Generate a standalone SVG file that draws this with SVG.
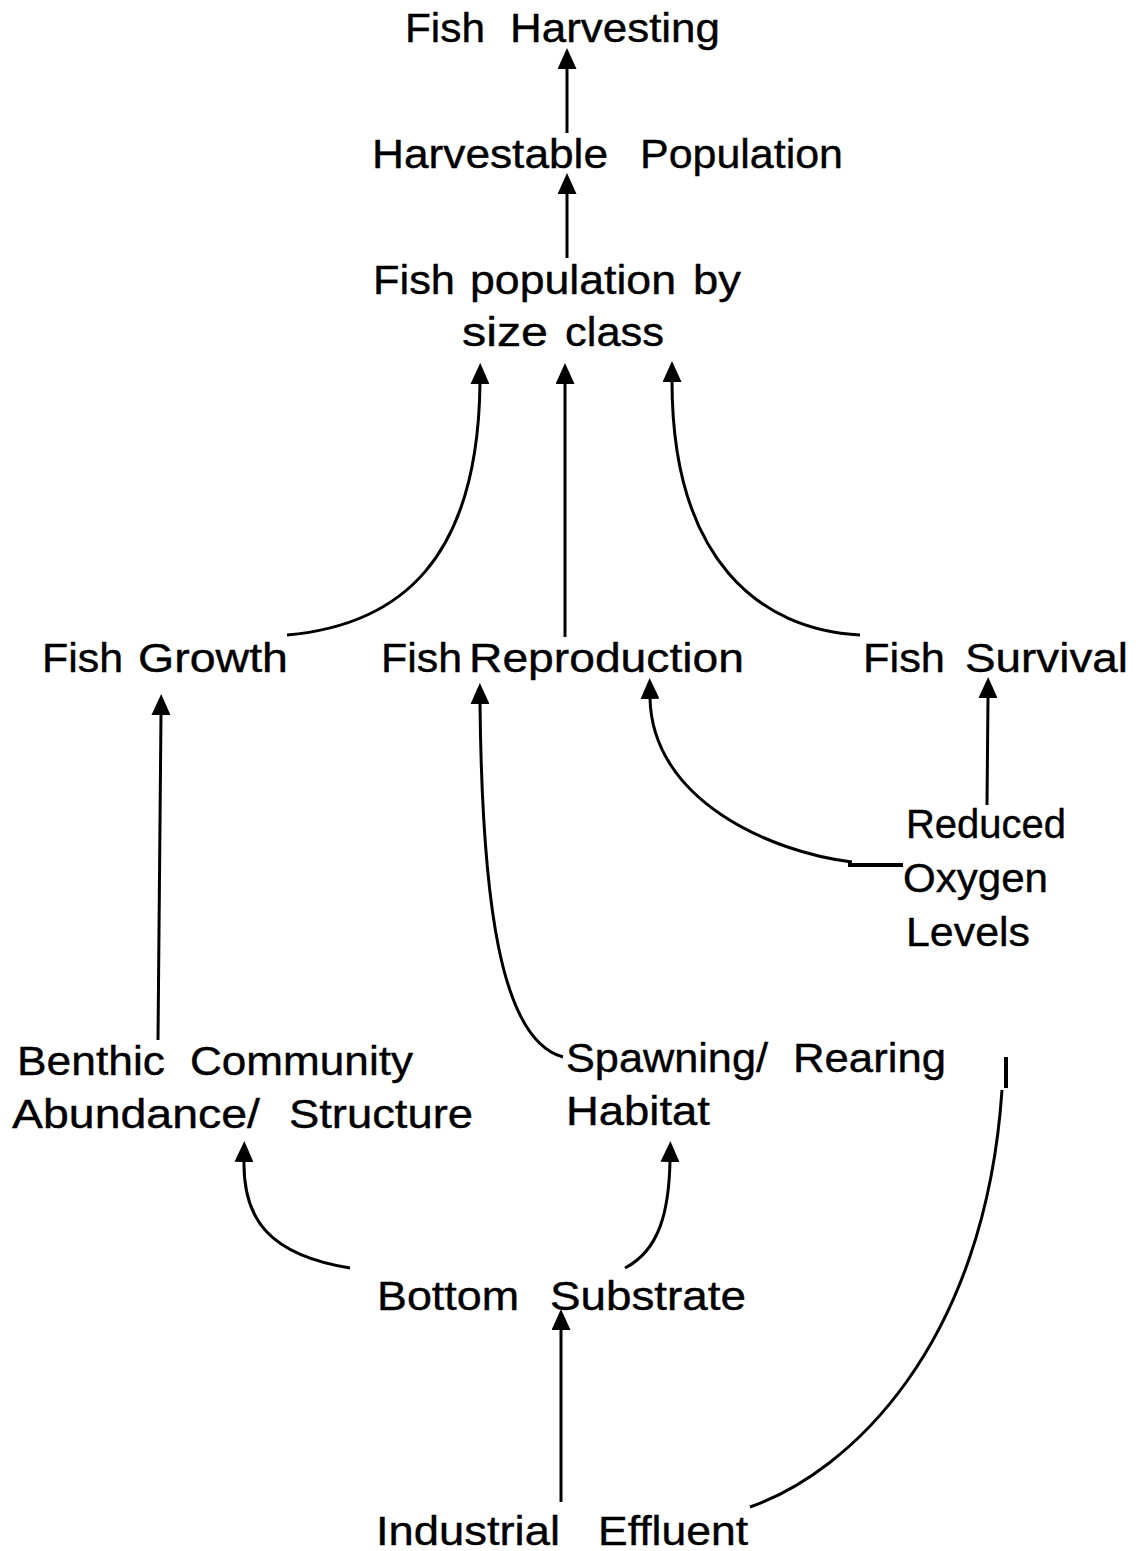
<svg xmlns="http://www.w3.org/2000/svg" width="1142" height="1551" viewBox="0 0 1142 1551">
<style>
text{font-family:"Liberation Sans",Arial,sans-serif;font-size:41px;fill:#000;stroke:#000;stroke-width:0.4}
.c{fill:none;stroke:#000;stroke-width:3;marker-end:url(#ah)}
.p{fill:none;stroke:#000;stroke-width:3}
.t{fill:none;stroke:#000;stroke-width:4}
</style>
<defs>
<marker id="ah" markerUnits="userSpaceOnUse" viewBox="0 0 21 19" refX="1" refY="9.5" markerWidth="21" markerHeight="19" orient="auto">
<path d="M0,0 L21,9.5 L0,19 z" fill="#000"/>
</marker>
</defs>
<rect width="1142" height="1551" fill="#fff"/>
<g id="connectors">
<path class="c" d="M567,133 L567,68"/>
<path class="c" d="M567,258 L567,193"/>
<path class="c" d="M287,635 C400,625 478,560 480,383"/>
<path class="c" d="M565,637 L565,383"/>
<path class="c" d="M860,635 C760,630 672,560 672,381"/>
<path class="c" d="M158,1040 L161,714"/>
<path class="c" d="M563,1057 C500,1040 482,900 480,703"/>
<path class="c" d="M852,862 C770,852 652,800 650,698"/>
<path class="t" d="M848,865 L903,865"/>
<path class="c" d="M987,805 L988,697"/>
<path class="c" d="M350,1268 C270,1255 243,1220 244,1161"/>
<path class="c" d="M625,1268 C660,1250 669,1210 670,1161"/>
<path class="c" d="M561,1502 L561,1329"/>
<path class="p" d="M750,1507 C850,1472 985,1345 1002,1090"/>
<path class="t" d="M1006,1057 L1006,1088"/>
</g>
<g id="fish-harvesting"><text y="42"><tspan x="405" textLength="80" lengthAdjust="spacingAndGlyphs">Fish</tspan> <tspan x="510" textLength="210" lengthAdjust="spacingAndGlyphs">Harvesting</tspan></text></g>
<g id="harvestable-population"><text y="168"><tspan x="372" textLength="236" lengthAdjust="spacingAndGlyphs">Harvestable</tspan> <tspan x="640" textLength="203" lengthAdjust="spacingAndGlyphs">Population</tspan></text></g>
<g id="fish-population"><text y="294"><tspan x="373" textLength="82" lengthAdjust="spacingAndGlyphs">Fish</tspan> <tspan x="470" textLength="206" lengthAdjust="spacingAndGlyphs">population</tspan> <tspan x="693" textLength="48" lengthAdjust="spacingAndGlyphs">by</tspan></text>
<text y="346"><tspan x="462" textLength="86" lengthAdjust="spacingAndGlyphs">size</tspan> <tspan x="565" textLength="99" lengthAdjust="spacingAndGlyphs">class</tspan></text></g>
<g id="fish-growth"><text y="672"><tspan x="42" textLength="81" lengthAdjust="spacingAndGlyphs">Fish</tspan> <tspan x="138" textLength="150" lengthAdjust="spacingAndGlyphs">Growth</tspan></text></g>
<g id="fish-reproduction"><text y="672"><tspan x="381" textLength="81" lengthAdjust="spacingAndGlyphs">Fish</tspan> <tspan x="469" textLength="275" lengthAdjust="spacingAndGlyphs">Reproduction</tspan></text></g>
<g id="fish-survival"><text y="672"><tspan x="863" textLength="82" lengthAdjust="spacingAndGlyphs">Fish</tspan> <tspan x="965" textLength="163" lengthAdjust="spacingAndGlyphs">Survival</tspan></text></g>
<g id="reduced-oxygen"><text><tspan x="906" y="838" textLength="160" lengthAdjust="spacingAndGlyphs">Reduced</tspan><tspan x="903" y="892" textLength="145" lengthAdjust="spacingAndGlyphs">Oxygen</tspan><tspan x="906" y="946" textLength="124" lengthAdjust="spacingAndGlyphs">Levels</tspan></text></g>
<g id="benthic"><text y="1075"><tspan x="17" textLength="148" lengthAdjust="spacingAndGlyphs">Benthic</tspan> <tspan x="190" textLength="223" lengthAdjust="spacingAndGlyphs">Community</tspan></text>
<text y="1128"><tspan x="12" textLength="248" lengthAdjust="spacingAndGlyphs">Abundance/</tspan> <tspan x="289" textLength="184" lengthAdjust="spacingAndGlyphs">Structure</tspan></text></g>
<g id="spawning"><text y="1072"><tspan x="566" textLength="202" lengthAdjust="spacingAndGlyphs">Spawning/</tspan> <tspan x="793" textLength="153" lengthAdjust="spacingAndGlyphs">Rearing</tspan></text>
<text y="1125"><tspan x="566" textLength="144" lengthAdjust="spacingAndGlyphs">Habitat</tspan></text></g>
<g id="bottom-substrate"><text y="1310"><tspan x="377" textLength="142" lengthAdjust="spacingAndGlyphs">Bottom</tspan> <tspan x="550" textLength="196" lengthAdjust="spacingAndGlyphs">Substrate</tspan></text></g>
<g id="industrial-effluent"><text y="1545"><tspan x="376" textLength="184" lengthAdjust="spacingAndGlyphs">Industrial</tspan> <tspan x="598" textLength="150" lengthAdjust="spacingAndGlyphs">Effluent</tspan></text></g>
</svg>
